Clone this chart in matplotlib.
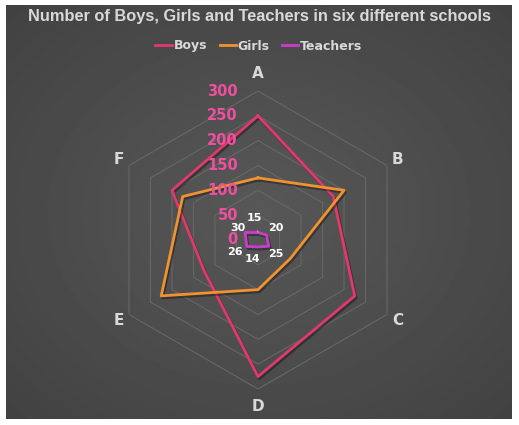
import numpy as np
import matplotlib.pyplot as plt
import matplotlib.patheffects as pe

# School data
schools = ['A', 'B', 'C', 'D', 'E', 'F']
boys = [250, 175, 225, 275, 125, 200]
girls = [125, 200, 75, 100, 225, 175]
teachers = [15, 20, 25, 14, 26, 30]
r_ticks = [0, 50, 100, 150, 200, 250, 300]

text_col = '#d9d9d9'
tick_col = '#ee4f9e'
colors = {'Boys': '#e2386c', 'Girls': '#f0922d', 'Teachers': '#cc3ccc'}

fig = plt.figure(figsize=(5.19, 4.25), dpi=100, facecolor='white')

# dark chart area with a soft radial gradient
bg = fig.add_axes([6 / 519, 6 / 425, 506 / 519, 414 / 425])
yy, xx = np.mgrid[-1:1:300j, -1:1:300j]
dist = np.sqrt(xx ** 2 + yy ** 2)
bg.imshow(-dist, cmap='gray', vmin=-5.7, vmax=10.9, aspect='auto',
          extent=[0, 1, 0, 1])
bg.set_xlim(0, 1)
bg.set_ylim(0, 1)
bg.axis('off')

bg.text(0.5, (425 - 17 - 6) / 414, 'Number of Boys, Girls and Teachers in six different schools',
        ha='center', va='center', color=text_col, fontsize=11.8, fontweight='bold',
        family='Liberation Sans', transform=bg.transAxes)

# radar axes
cx, cy, R = 258, 425 - 240, 149
ax = fig.add_axes([(cx - R) / 519, (cy - R) / 425, 2 * R / 519, 2 * R / 425],
                  projection='polar')
ax.set_facecolor('none')
ax.set_theta_offset(np.pi / 2)
ax.set_theta_direction(-1)
ax.set_ylim(0, 300)
ax.grid(False)
ax.spines['polar'].set_visible(False)
ax.set_xticks([])
ax.set_yticks([])

angles = np.linspace(0, 2 * np.pi, len(schools), endpoint=False)
closed = np.append(angles, angles[0])

# hexagonal grid
for r in r_ticks[1:]:
    ax.plot(closed, [r] * len(closed), color='#676767', lw=0.8, zorder=1)

shadow = [pe.SimpleLineShadow(offset=(1, -1.5), alpha=0.35, shadow_color='black'),
          pe.Normal()]
for name, vals in [('Boys', boys), ('Girls', girls), ('Teachers', teachers)]:
    ax.plot(closed, vals + vals[:1], color=colors[name], lw=2, label=name,
            path_effects=shadow, zorder=3)

# radial tick labels along axis A
for r in r_ticks:
    ax.annotate(str(r), xy=(0, r), xytext=(-20, 0), textcoords='offset pixels',
                ha='right', va='center', color=tick_col, fontsize=10.5,
                fontweight='bold', zorder=4)

# category labels
for a, s in zip(angles, schools):
    rr = 336 if s in ('A', 'D') else 324
    ax.text(a, rr, s, ha='center', va='center', color=text_col,
            fontsize=11, fontweight='bold')

# teacher data labels
offsets = [(-4, 15), (9, 7), (7, -8), (-5, -12), (-12, -6), (-7, 5)]
for a, v, off in zip(angles, teachers, offsets):
    kw = {}
    if v == teachers[0]:
        kw['arrowprops'] = dict(arrowstyle='-', color='#a6a6a6', lw=0.8,
                                shrinkA=4, shrinkB=0)
    ax.annotate(str(v), xy=(a, v), xytext=off, textcoords='offset pixels',
                ha='center', va='center', color='white', fontsize=8,
                fontweight='bold', zorder=5, **kw)

leg = fig.legend(loc='center', bbox_to_anchor=(259 / 519, 1 - 46 / 425), ncol=3,
                 frameon=False, handlelength=1.3, handletextpad=0.15,
                 columnspacing=1.0, fontsize=9)
for t in leg.get_texts():
    t.set_color(text_col)
    t.set_fontweight('bold')
for h in leg.legend_handles:
    h.set_path_effects([])

fig.savefig('out.png', dpi=100, facecolor='white')
